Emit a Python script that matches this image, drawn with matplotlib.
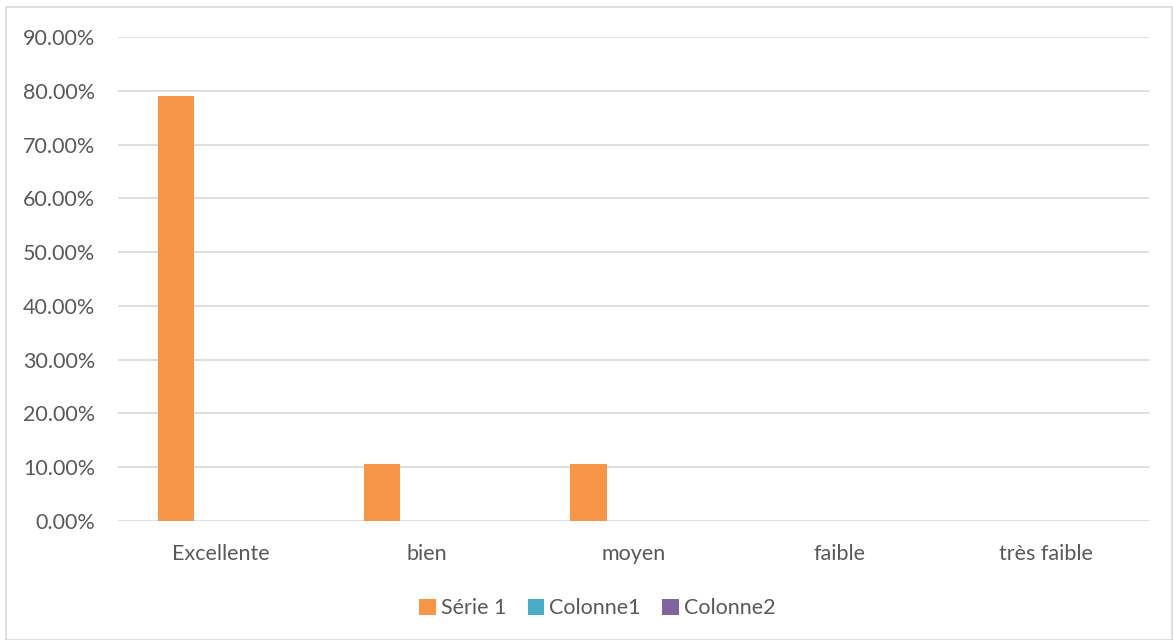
import numpy as np
import matplotlib.pyplot as plt
from matplotlib.patches import Rectangle

categories = ['Excellente', 'bien', 'moyen', 'faible', 'très faible']
serie1 = [0.7895, 0.1053, 0.1053, 0.0, 0.0]
colonne1 = [0, 0, 0, 0, 0]
colonne2 = [0, 0, 0, 0, 0]
series_names = ['Série 1', 'Colonne1', 'Colonne2']
colors = ['#F79646', '#4BACC6', '#8064A2']
yticks = np.arange(0, 0.91, 0.1)

plt.rcParams['font.family'] = ['Lato', 'DejaVu Sans']
txt = '#595959'

fig = plt.figure(figsize=(11.73, 6.4), dpi=100)
ax = fig.add_axes([0.1006, 0.1859, 0.8789, 0.7563])

x = np.arange(len(categories))
w = 0.175
off = 0.218
for i, (vals, name, c) in enumerate(zip([serie1, colonne1, colonne2], series_names, colors)):
    ax.bar(x + (i - 1) * off, vals, width=w, color=c, label=name, zorder=2)

ax.set_xlim(-0.5, len(categories) - 0.5)
ax.set_ylim(0, 0.9)
ax.set_yticks(yticks)
ax.set_yticklabels(['%.2f%%' % (v * 100) for v in yticks])
ax.set_xticks(x)
ax.set_xticklabels(categories)
ax.tick_params(axis='both', length=0, labelsize=15.5, colors=txt)
ax.tick_params(axis='y', pad=16.5)
ax.tick_params(axis='x', pad=16.5)
ax.grid(axis='y', color='#D9D9D9', linewidth=1.2, zorder=0)
for s in ax.spines.values():
    s.set_visible(False)

leg = ax.legend(loc='center', bbox_to_anchor=(0.465, -0.18), ncol=3, frameon=False,
                fontsize=15.5, handlelength=0.75, handleheight=0.75, handletextpad=0.25,
                columnspacing=1.0, labelcolor=txt)

fig.patches.append(Rectangle((6 / 1173, 0), 1166 / 1173, 1 - 7 / 640, transform=fig.transFigure,
                             fill=False, edgecolor='#D9D9D9', linewidth=1.2))

plt.savefig('out.png', dpi=100)
plt.close()
